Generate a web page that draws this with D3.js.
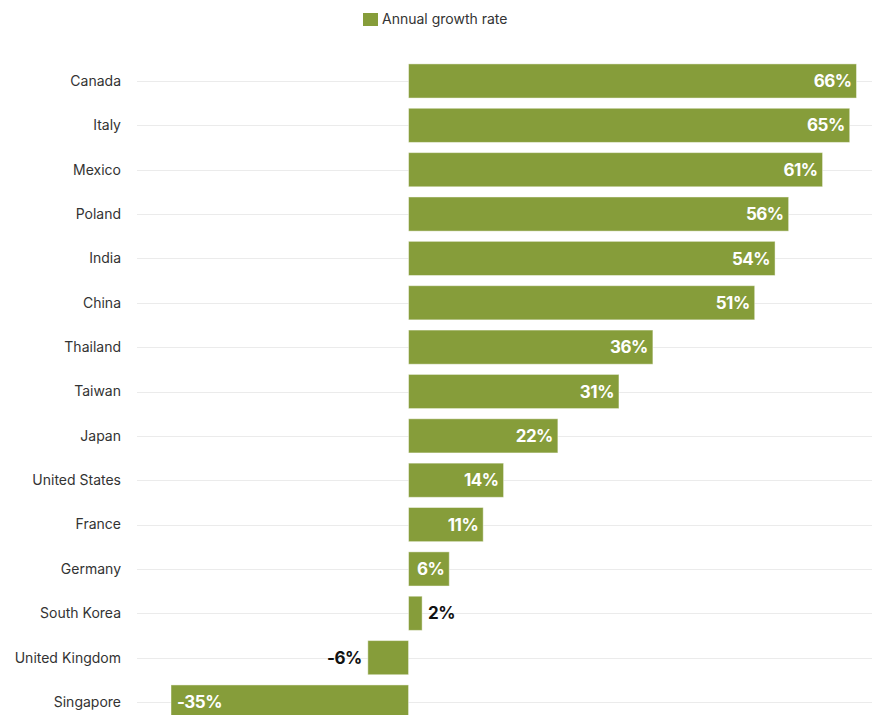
<!DOCTYPE html>
<html><head><meta charset="utf-8">
<script src="https://cdn.jsdelivr.net/npm/d3@7"></script>
<style>
html,body{margin:0;padding:0;background:#fff;}
svg{display:block;font-family:Inter,"Noto Sans",sans-serif;}
</style></head>
<body><svg id="c" width="872" height="715"></svg>
<script>
const categories = ["Canada","Italy","Mexico","Poland","India","China","Thailand","Taiwan","Japan","United States","France","Germany","South Korea","United Kingdom","Singapore"];
const values = [66,65,61,56,54,51,36,31,22,14,11,6,2,-6,-35];
const seriesName = "Annual growth rate";
const barColor = "#869d3a";

const svg = d3.select("#c");
const x = d3.scaleLinear().domain([-35, 66]).range([171, 856.5]);
const y = d3.scaleBand().domain(categories).range([58.8, 724.2]).paddingInner(0.23).paddingOuter(0.115);

// gridlines
svg.append("g").selectAll("line").data(categories).join("line")
  .attr("x1", 137).attr("x2", 872)
  .attr("y1", d => Math.round(y(d) + y.bandwidth()/2) + 0.5)
  .attr("y2", d => Math.round(y(d) + y.bandwidth()/2) + 0.5)
  .attr("stroke", "#ebebeb").attr("stroke-width", 1);

// category labels
svg.append("g").selectAll("text").data(categories).join("text")
  .attr("x", 121).attr("y", d => y(d) + y.bandwidth()/2)
  .attr("dy", "0.35em").attr("text-anchor", "end")
  .attr("font-size", 14).attr("fill", "#333").text(d => d);

const data = categories.map((c, i) => ({c, v: values[i]}));

svg.append("g").selectAll("rect").data(data).join("rect")
  .attr("x", d => x(Math.min(0, d.v)))
  .attr("y", d => y(d.c))
  .attr("width", d => Math.abs(x(d.v) - x(0)))
  .attr("height", y.bandwidth())
  .attr("fill", barColor)
  .attr("stroke", "rgba(255,255,255,0.45)").attr("stroke-width", 1);

const fmt = v => v + "%";
svg.append("g").selectAll("text").data(data).join("text")
  .each(function(d) {
    const w = Math.abs(x(d.v) - x(0));
    const t = d3.select(this);
    t.attr("y", y(d.c) + y.bandwidth()/2).attr("dy", "0.36em")
     .attr("font-size", 17).attr("font-weight", 700)
     .attr("letter-spacing", "-0.5px")
     .text(fmt(d.v));
    const tw = this.getComputedTextLength();
    const inside = w > tw + 9;
    if (d.v >= 0) {
      if (inside) t.attr("x", x(d.v) - 5).attr("text-anchor", "end").attr("fill", "#fff");
      else t.attr("x", x(d.v) + 6).attr("text-anchor", "start").attr("fill", "#111");
    } else {
      if (inside) t.attr("x", x(d.v) + 6).attr("text-anchor", "start").attr("fill", "#fff");
      else t.attr("x", x(d.v) - 6).attr("text-anchor", "end").attr("fill", "#111");
    }
  });

// legend
const lg = svg.append("g");
lg.append("rect").attr("x", 363).attr("y", 13).attr("width", 15).attr("height", 13).attr("fill", barColor);
lg.append("text").attr("x", 382).attr("y", 19.5).attr("dy", "0.35em")
  .attr("font-size", 14).attr("fill", "#333").text(seriesName);
</script>
</body></html>
